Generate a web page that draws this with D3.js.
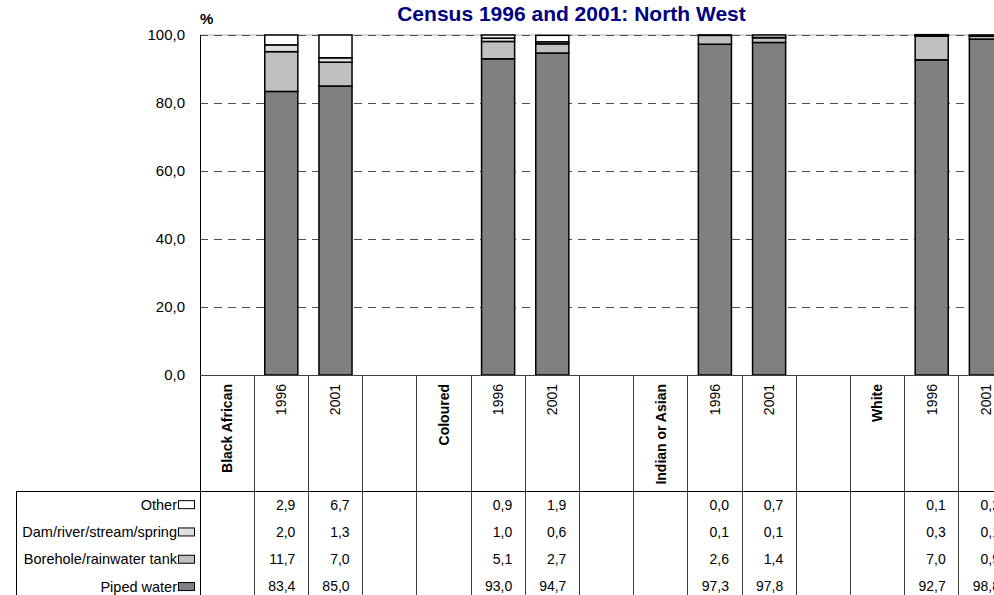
<!DOCTYPE html>
<html>
<head>
<meta charset="utf-8">
<script src="https://cdn.jsdelivr.net/npm/d3@7"></script>
<style>
  html, body { margin: 0; padding: 0; background: #ffffff; }
  svg { display: block; }
</style>
</head>
<body>
<script>
// ---- data ----
const groups = ["Black African", "Coloured", "Indian or Asian", "White"];
const years = ["1996", "2001"];
const seriesNames = ["Piped water", "Borehole/rainwater tank", "Dam/river/stream/spring", "Other"];
const piped    = [83.4, 85.0, 93.0, 94.7, 97.3, 97.8, 92.7, 98.8];
const borehole = [11.7, 7.0, 5.1, 2.7, 2.6, 1.4, 7.0, 0.9];
const dam      = [2.0, 1.3, 1.0, 0.6, 0.1, 0.1, 0.3, 0.1];
const other    = [2.9, 6.7, 0.9, 1.9, 0.0, 0.7, 0.1, 0.2];
const yTicks   = [0, 20, 40, 60, 80, 100];
const title    = "Census 1996 and 2001: North West";

const colors = ["#808080", "#c0c0c0", "#e0e0e0", "#ffffff"];
const seriesValues = [piped, borehole, dam, other];

const W = 994, H = 595;
const svg = d3.select("body").append("svg").attr("width", W).attr("height", H);

const left = 200, slotW = 54.2, nSlots = groups.length * 4;
const x = d3.scaleBand().domain(d3.range(nSlots)).range([left, left + slotW * nSlots]).padding(0);
const y = d3.scaleLinear().domain([0, 100]).range([375, 35]);
const fmt = v => d3.format(".1f")(v).replace(".", ",");

// title
svg.append("text").attr("x", 571.5).attr("y", 21).attr("text-anchor", "middle")
  .attr("font-family", "Liberation Sans, Arial, sans-serif").attr("font-weight", "bold")
  .attr("font-size", 21).attr("fill", "#000080").text(title);
svg.append("text").attr("x", 200).attr("y", 24)
  .attr("font-family", "Liberation Sans, Arial, sans-serif").attr("font-weight", "bold")
  .attr("font-size", 15).attr("fill", "#000").text("%");

// gridlines
const plotRight = W + 80;
svg.append("line").attr("x1", left).attr("x2", plotRight).attr("y1", y(100)).attr("y2", y(100))
  .attr("stroke", "#c8c8c8").attr("stroke-width", 1.5);
svg.selectAll("line.grid").data(yTicks.filter(t => t > 0)).join("line").attr("class", "grid")
  .attr("x1", left).attr("x2", plotRight).attr("y1", d => y(d)).attr("y2", d => y(d))
  .attr("stroke", "#505050").attr("stroke-width", 1).attr("stroke-dasharray", "8,6")
  .attr("shape-rendering", "crispEdges");

// y axis labels
const yAxis = d3.axisLeft(y).tickValues(yTicks).tickFormat(fmt).tickSize(0).tickPadding(15);
const ya = svg.append("g").attr("transform", `translate(${left},0)`).call(yAxis);
ya.select(".domain").remove();
ya.selectAll("text").attr("font-family", "Liberation Sans, Arial, sans-serif").attr("font-size", 15).attr("fill", "#000");

// bars
const barData = [];
groups.forEach((g, gi) => years.forEach((yr, yi) => {
  const idx = gi * 2 + yi;
  let base = 0;
  seriesValues.forEach((vals, si) => {
    barData.push({ slot: gi * 4 + 1 + yi, y0: base, y1: base + vals[idx], color: colors[si] });
    base += vals[idx];
  });
}));
const bw = x.bandwidth() * 0.61;
svg.selectAll("rect.bar").data(barData).join("rect").attr("class", "bar")
  .attr("x", d => x(d.slot) + (x.bandwidth() - bw) / 2).attr("width", bw)
  .attr("y", d => y(d.y1)).attr("height", d => y(d.y0) - y(d.y1))
  .attr("fill", d => d.color).attr("stroke", "#000").attr("stroke-width", 1.5);

// axis frame
svg.append("line").attr("x1", left).attr("x2", left).attr("y1", y(100)).attr("y2", H)
  .attr("stroke", "#000").attr("stroke-width", 1).attr("shape-rendering", "crispEdges");
svg.append("line").attr("x1", left).attr("x2", plotRight).attr("y1", y(0)).attr("y2", y(0))
  .attr("stroke", "#404040").attr("stroke-width", 1).attr("shape-rendering", "crispEdges");

// table
const tableTop = 491, rowH = 27.3, tableLeft = 16;
svg.selectAll("line.vsep").data(d3.range(1, nSlots + 1)).join("line").attr("class", "vsep")
  .attr("x1", d => x(0) + d * x.step()).attr("x2", d => x(0) + d * x.step())
  .attr("y1", y(0)).attr("y2", H).attr("stroke", "#404040").attr("stroke-width", 1)
  .attr("shape-rendering", "crispEdges");
svg.append("line").attr("x1", tableLeft).attr("x2", plotRight).attr("y1", tableTop).attr("y2", tableTop)
  .attr("stroke", "#000").attr("stroke-width", 1).attr("shape-rendering", "crispEdges");
svg.append("line").attr("x1", tableLeft).attr("x2", tableLeft).attr("y1", tableTop).attr("y2", H)
  .attr("stroke", "#000").attr("stroke-width", 1).attr("shape-rendering", "crispEdges");

// category header labels
const headers = [];
groups.forEach((g, gi) => {
  headers.push({ slot: gi * 4, text: g, bold: true });
  years.forEach((yr, yi) => headers.push({ slot: gi * 4 + 1 + yi, text: yr, bold: false }));
});
svg.selectAll("text.hdr").data(headers).join("text").attr("class", "hdr")
  .attr("transform", d => `translate(${x(d.slot) + x.bandwidth() / 2},384) rotate(-90)`)
  .attr("text-anchor", "end").attr("dy", "0.35em")
  .attr("font-family", "Liberation Sans, Arial, sans-serif")
  .attr("font-weight", d => d.bold ? "bold" : "normal").attr("font-size", 14).attr("fill", "#000")
  .text(d => d.text);

// legend rows (top row = Other)
const rowOrder = [3, 2, 1, 0];
rowOrder.forEach((si, r) => {
  const cy = tableTop + rowH * r + rowH / 2;
  svg.append("text").attr("x", 177).attr("y", cy).attr("dy", "0.35em").attr("text-anchor", "end")
    .attr("font-family", "Liberation Sans, Arial, sans-serif").attr("font-size", 14.5).attr("fill", "#000")
    .text(seriesNames[si]);
  svg.append("rect").attr("x", 178.5).attr("y", cy - 4).attr("width", 16).attr("height", 8)
    .attr("fill", colors[si]).attr("stroke", "#000").attr("stroke-width", 1);
  const vals = seriesValues[si];
  groups.forEach((g, gi) => years.forEach((yr, yi) => {
    const slot = gi * 4 + 1 + yi;
    svg.append("text").attr("x", x(slot) + x.bandwidth() - 13).attr("y", cy).attr("dy", "0.35em")
      .attr("text-anchor", "end")
      .attr("font-family", "Liberation Sans Narrow, Arial Narrow, Liberation Sans, sans-serif")
      .attr("font-size", 14).attr("fill", "#000")
      .text(fmt(vals[gi * 2 + yi]));
  }));
});
</script>
</body>
</html>
